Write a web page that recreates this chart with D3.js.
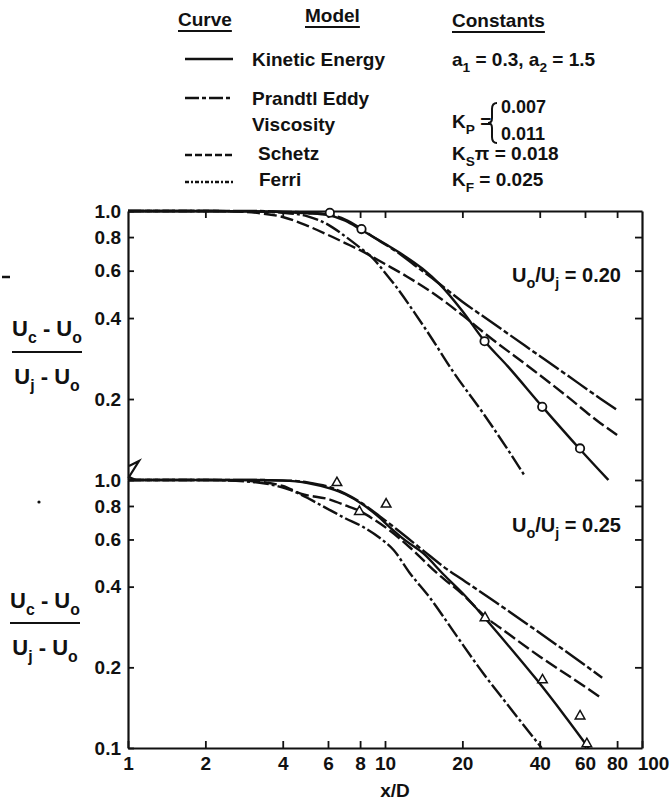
<!DOCTYPE html>
<html><head><meta charset="utf-8">
<script src="https://cdn.jsdelivr.net/npm/d3@7"></script>
<style>
html,body{margin:0;padding:0;background:#fff;}
svg text{font-family:"Liberation Sans",Arial,Helvetica,sans-serif;font-weight:bold;fill:#111;}
</style></head><body>
<svg id="chart" width="671" height="800"></svg>
<script>
// ---------- data ----------
const xTickValues = [1, 2, 4, 6, 8, 10, 20, 40, 60, 80, 100];
const xTickLabels = ["1", "2", "4", "6", "8", "10", "20", "40", "60", "80", "100"];
const yTickValuesTop = [0.2, 0.4, 0.6, 0.8, 1.0];
const yTickLabelsTop = ["0.2", "0.4", "0.6", "0.8", "1.0"];
const yTickValuesBottom = [0.1, 0.2, 0.4, 0.6, 0.8, 1.0];
const yTickLabelsBottom = ["0.1", "0.2", "0.4", "0.6", "0.8", "1.0"];

const modelNames = ["Kinetic Energy", "Prandtl Eddy Viscosity", "Schetz", "Ferri"];
const panelLabels = ["0.20", "0.25"];

// top panel  (U0/Uj = 0.20)
const topKinetic = [[1,1],[2,1],[3,0.997],[4,0.99],[5,0.98],[6,0.965],[7,0.92],[8.1,0.85],[10,0.755],[11.8,0.685],[14,0.61],[16.3,0.535],[20,0.425],[24.3,0.33],[30,0.265],[41,0.187],[57,0.131],[74,0.1]];
const topPrandtl = [[1,1],[3,1],[4,0.995],[5,0.985],[6,0.97],[7,0.93],[8,0.865],[9,0.8],[11.1,0.706],[13,0.63],[15.9,0.546],[20,0.46],[25.6,0.39],[35,0.316],[50,0.249],[68.7,0.201],[80,0.182]];
const topSchetz = [[1,1],[2,1],[2.7,0.995],[3.3,0.98],[4,0.95],[5,0.88],[6,0.815],[7,0.76],[8,0.715],[10,0.635],[12.2,0.57],[16.4,0.474],[20,0.41],[24.9,0.346],[37.8,0.256],[50,0.208],[68.7,0.163],[80,0.147]];
const topFerri = [[1,1],[2,1],[3,0.997],[4,0.985],[5,0.955],[6,0.89],[7,0.805],[8,0.73],[9,0.665],[10,0.59],[11.1,0.52],[13,0.42],[14.9,0.346],[18.4,0.253],[24.1,0.177],[30,0.13],[35.1,0.103]];
const topData = [[6.1,0.985],[8.1,0.857],[24.4,0.328],[40.9,0.187],[57.4,0.131]];

// bottom panel (U0/Uj = 0.25)
const botKinetic = [[1,1],[3,1],[4,0.995],[5,0.975],[6.1,0.93],[7,0.885],[8.2,0.81],[9.5,0.725],[10.4,0.669],[12,0.595],[14.1,0.532],[16.9,0.444],[20.1,0.377],[24.5,0.305],[30,0.243],[38.9,0.18],[50,0.132],[62,0.1]];
const botPrandtl = [[1,1],[3,1],[4,0.997],[5,0.98],[6.1,0.94],[7,0.89],[8.2,0.815],[9.5,0.735],[11.1,0.655],[14.1,0.545],[17.4,0.465],[20,0.425],[25.6,0.362],[35,0.294],[50,0.231],[70,0.183]];
const botSchetz = [[1,1],[2,1],[3,0.99],[4,0.95],[4.7,0.89],[6.1,0.845],[7,0.805],[8,0.765],[9,0.715],[10.5,0.645],[12.5,0.56],[15.9,0.45],[20,0.375],[24.5,0.31],[30,0.268],[40.1,0.219],[55,0.179],[70,0.153]];
const botFerri = [[1,1],[2,1],[3,0.985],[4.27,0.918],[5.93,0.784],[7,0.72],[8.2,0.669],[9.5,0.61],[10.8,0.548],[12.5,0.449],[14.9,0.365],[19,0.262],[24.1,0.19],[30,0.145],[40.7,0.1]];
const botData = [[6.5,0.98],[7.95,0.765],[10.1,0.815],[24.5,0.307],[41,0.18],[57.4,0.132],[61,0.104]];

// ---------- drawing ----------
const W = 671, H = 800;
const svg = d3.select("#chart");
svg.append("rect").attr("width", W).attr("height", H).attr("fill", "#fff");

const x = d3.scaleLog().domain([1, 100]).range([128, 642]);
const yTop = d3.scaleLog().domain([0.1, 1]).range([480, 211]);
const yBot = d3.scaleLog().domain([0.1, 1]).range([748, 480]);

const dashes = [null, "24,3,5,3", "13,4", "16,3,3,3"];
const legendDashes = [null, "14,3,4,3", "7,3", "4,2,2,2"];
const ink = "#111";

function richText(g, xPos, yPos, parts, size, anchor) {
  const t = g.append("text").attr("x", xPos).attr("y", yPos)
    .attr("font-size", size).attr("text-anchor", anchor || "start");
  let shift = 0;
  parts.forEach(p => {
    const s = t.append("tspan").text(p.t);
    const target = p.sub ? size * 0.32 : 0;
    const dy = target - shift;
    if (dy !== 0) s.attr("dy", dy);
    shift = target;
    if (p.sub) s.attr("font-size", size * 0.72);
  });
  return t;
}

// axes
function styleAxis(g) {
  g.attr("font-family", null).attr("font-size", 19);
  g.select(".domain").attr("stroke", ink).attr("stroke-width", 2.2);
  g.selectAll(".tick line").attr("stroke", ink).attr("stroke-width", 1.8);
  g.selectAll(".tick text").attr("fill", ink);
}
const xLab = new Map(xTickValues.map((v, i) => [v, xTickLabels[i]]));
const gx = svg.append("g").attr("transform", "translate(0,748)")
  .call(d3.axisBottom(x).tickValues(xTickValues).tickFormat(d => xLab.get(d))
    .tickSizeInner(-7).tickSizeOuter(0).tickPadding(9))
  .call(styleAxis);
gx.selectAll(".tick text").filter(d => d === 100).attr("dx", 11);
svg.append("g").attr("transform", "translate(0,211)")
  .call(d3.axisTop(x).tickValues(xTickValues.slice(1, -1)).tickFormat("")
    .tickSizeInner(-7).tickSizeOuter(0))
  .call(styleAxis);

const ltMap = new Map(yTickValuesTop.map((v, i) => [v, yTickLabelsTop[i]]));
const lbMap = new Map(yTickValuesBottom.map((v, i) => [v, yTickLabelsBottom[i]]));
svg.append("g").attr("transform", "translate(128,0)")
  .call(d3.axisLeft(yTop).tickValues(yTickValuesTop).tickFormat(d => ltMap.get(d))
    .tickSizeInner(-6).tickSizeOuter(0).tickPadding(7))
  .call(styleAxis);
svg.append("g").attr("transform", "translate(128,0)")
  .call(d3.axisLeft(yBot).tickValues(yTickValuesBottom).tickFormat(d => lbMap.get(d))
    .tickSizeInner(-6).tickSizeOuter(0).tickPadding(7))
  .call(styleAxis);
svg.append("g").attr("transform", "translate(642,0)")
  .call(d3.axisRight(yTop).tickValues(yTickValuesTop.slice(0, 4)).tickFormat("")
    .tickSizeInner(-7).tickSizeOuter(0))
  .call(styleAxis);
svg.append("g").attr("transform", "translate(642,0)")
  .call(d3.axisRight(yBot).tickValues(yTickValuesBottom.slice(1)).tickFormat("")
    .tickSizeInner(-7).tickSizeOuter(0))
  .call(styleAxis);

// axis break mark
svg.append("path").attr("d", "M129,466 L139,461 L129,477 L136,480")
  .attr("fill", "none").attr("stroke", ink).attr("stroke-width", 2.2);

// curves and points
const panels = [
  { y: yTop, curves: [topKinetic, topPrandtl, topSchetz, topFerri], pts: topData, sym: "circle" },
  { y: yBot, curves: [botKinetic, botPrandtl, botSchetz, botFerri], pts: botData, sym: "triangle" }
];
const triPath = "M0,-5.2 L4.8,3.2 L-4.8,3.2 Z";
panels.forEach(p => {
  const line = d3.line().x(d => x(d[0])).y(d => p.y(d[1])).curve(d3.curveMonotoneX);
  const g = svg.append("g");
  g.selectAll("path.curve").data(p.curves).join("path")
    .attr("class", "curve")
    .attr("d", line)
    .attr("fill", "none").attr("stroke", ink).attr("stroke-width", 2.4)
    .attr("stroke-dasharray", (d, i) => dashes[i]);
  if (p.sym === "circle") {
    g.selectAll("circle").data(p.pts).join("circle")
      .attr("cx", d => x(d[0])).attr("cy", d => p.y(d[1])).attr("r", 4.2)
      .attr("fill", "#fff").attr("stroke", ink).attr("stroke-width", 1.8);
  } else {
    g.selectAll("path.tri").data(p.pts).join("path").attr("class", "tri")
      .attr("d", triPath)
      .attr("transform", d => `translate(${x(d[0])},${p.y(d[1])})`)
      .attr("fill", "#fff").attr("stroke", ink).attr("stroke-width", 1.5);
  }
});

// panel annotations
richText(svg, 512, 282, [{t:"U"},{t:"o",sub:true},{t:"/U"},{t:"j",sub:true},{t:" = " + panelLabels[0]}], 20);
richText(svg, 512, 532, [{t:"U"},{t:"o",sub:true},{t:"/U"},{t:"j",sub:true},{t:" = " + panelLabels[1]}], 20);

// y-axis fraction labels
function fraction(cx, yNum, yLine, yDen) {
  richText(svg, cx, yNum, [{t:"U"},{t:"c",sub:true},{t:" - U"},{t:"o",sub:true}], 22, "middle");
  svg.append("line").attr("x1", cx - 35).attr("x2", cx + 35).attr("y1", yLine).attr("y2", yLine)
    .attr("stroke", ink).attr("stroke-width", 2.2);
  richText(svg, cx, yDen, [{t:"U"},{t:"j",sub:true},{t:" - U"},{t:"o",sub:true}], 22, "middle");
}
fraction(47, 336, 352, 384);
fraction(45, 608, 623, 655);

// x-axis title
svg.append("text").attr("x", 395).attr("y", 797).attr("font-size", 19).attr("text-anchor", "middle").text("x/D");

// legend
const lg = svg.append("g");
const heads = [["Curve", 178, 26], ["Model", 305, 22], ["Constants", 452, 27]];
heads.forEach(h => {
  const t = lg.append("text").attr("x", h[1]).attr("y", h[2]).attr("font-size", 19).text(h[0]);
  const w = t.node().getComputedTextLength();
  lg.append("line").attr("x1", h[1]).attr("x2", h[1] + w).attr("y1", h[2] + 5).attr("y2", h[2] + 5)
    .attr("stroke", ink).attr("stroke-width", 2);
});
const sampleY = [59, 98, 155, 182];
lg.selectAll("line.sample").data(sampleY).join("line").attr("class", "sample")
  .attr("x1", 185).attr("x2", 233).attr("y1", d => d).attr("y2", d => d)
  .attr("stroke", ink).attr("stroke-width", 2.3)
  .attr("stroke-dasharray", (d, i) => legendDashes[i]);

lg.append("text").attr("x", 252).attr("y", 66).attr("font-size", 19).text("Kinetic Energy");
lg.append("text").attr("x", 252).attr("y", 105).attr("font-size", 19).text("Prandtl Eddy");
lg.append("text").attr("x", 252).attr("y", 131).attr("font-size", 19).text("Viscosity");
lg.append("text").attr("x", 258).attr("y", 160).attr("font-size", 19).text("Schetz");
lg.append("text").attr("x", 259).attr("y", 186).attr("font-size", 19).text("Ferri");

richText(lg, 452, 66, [{t:"a"},{t:"1",sub:true},{t:" = 0.3,  a"},{t:"2",sub:true},{t:" = 1.5"}], 19);
richText(lg, 452, 128, [{t:"K"},{t:"P",sub:true},{t:" ="}], 19);
lg.append("path").attr("d", "M497,103 q-5,0 -5,6 v9 q0,5 -4,5 q4,0 4,5 v9 q0,6 5,6")
  .attr("fill", "none").attr("stroke", ink).attr("stroke-width", 2);
lg.append("text").attr("x", 501).attr("y", 113).attr("font-size", 18).text("0.007");
lg.append("text").attr("x", 501).attr("y", 140).attr("font-size", 18).text("0.011");
richText(lg, 452, 160, [{t:"K"},{t:"S",sub:true},{t:"π = 0.018"}], 19);
richText(lg, 452, 186, [{t:"K"},{t:"F",sub:true},{t:" = 0.025"}], 19);

// small scan marks
svg.append("line").attr("x1", 2).attr("x2", 10).attr("y1", 277).attr("y2", 277).attr("stroke", ink).attr("stroke-width", 2.5);
svg.append("circle").attr("cx", 39).attr("cy", 502).attr("r", 1.6).attr("fill", ink);
</script>
</body></html>
